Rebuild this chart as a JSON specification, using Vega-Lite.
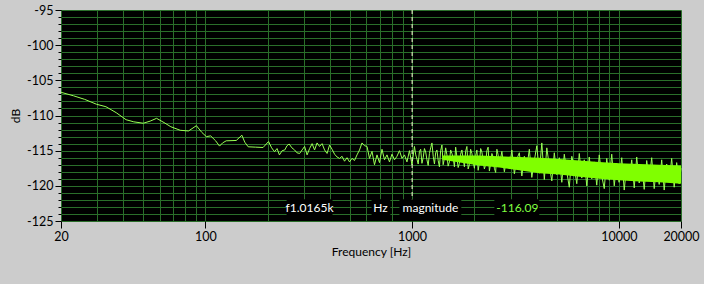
{
  "$schema": "https://vega.github.io/schema/vega-lite/v6.json",
  "width": 620,
  "height": 211,
  "autosize": {"type": "none"},
  "padding": {"left": 61, "top": 10, "right": 23, "bottom": 63},
  "background": "#cccccc",
  "config": {"view": {"fill": "#000000", "stroke": null}, "font": "Lato"},
  "datasets": {
    "spec": [
      {"f": 20, "db": -106.7}, {"f": 23, "db": -107.2}, {"f": 26, "db": -107.7}, {"f": 29.7, "db": -108.4},
      {"f": 33, "db": -108.75}, {"f": 37, "db": -109.6}, {"f": 41.3, "db": -110.6}, {"f": 45, "db": -110.9},
      {"f": 50, "db": -111.1}, {"f": 54, "db": -110.8}, {"f": 58, "db": -110.4}, {"f": 63, "db": -111.0},
      {"f": 68, "db": -111.6}, {"f": 75.5, "db": -112.1}, {"f": 82.8, "db": -112.2}, {"f": 90.4, "db": -111.45},
      {"f": 96, "db": -112.4}, {"f": 101, "db": -113.0}, {"f": 106, "db": -112.9}, {"f": 112, "db": -113.6},
      {"f": 117, "db": -114.35}, {"f": 121, "db": -113.9}, {"f": 126, "db": -113.6}, {"f": 141, "db": -113.55},
      {"f": 150, "db": -112.8}, {"f": 155, "db": -113.8}, {"f": 161, "db": -114.45}, {"f": 175, "db": -114.5},
      {"f": 190, "db": -114.55}, {"f": 202, "db": -113.7}, {"f": 209, "db": -114.6}, {"f": 216, "db": -115.15},
      {"f": 222, "db": -114.7}, {"f": 228, "db": -115.6}, {"f": 235, "db": -115.0}, {"f": 242, "db": -114.9},
      {"f": 248, "db": -114.3}, {"f": 254, "db": -114.05}, {"f": 262, "db": -114.6}, {"f": 270, "db": -114.9},
      {"f": 277, "db": -115.3}, {"f": 285.5, "db": -115.4},
      {"f": 293.5, "db": -114.9}, {"f": 301.8, "db": -114.4}, {"f": 310.3, "db": -115.6}, {"f": 319.1, "db": -114.7},
      {"f": 328.1, "db": -114.0}, {"f": 337.3, "db": -114.9}, {"f": 346.8, "db": -113.9}, {"f": 356.6, "db": -114.4},
      {"f": 366.7, "db": -114.0}, {"f": 377.0, "db": -114.9}, {"f": 387.7, "db": -115.4}, {"f": 398.6, "db": -114.2},
      {"f": 409.8, "db": -114.8}, {"f": 421.4, "db": -115.5}, {"f": 433.3, "db": -115.9}, {"f": 445.5, "db": -116.1},
      {"f": 458.1, "db": -115.8}, {"f": 471.0, "db": -116.5}, {"f": 484.3, "db": -116.0}, {"f": 497.9, "db": -116.6},
      {"f": 512.0, "db": -116.1}, {"f": 526.4, "db": -116.4}, {"f": 541.3, "db": -115.6}, {"f": 556.5, "db": -114.9},
      {"f": 572.2, "db": -113.9}, {"f": 588.4, "db": -114.3}, {"f": 605.0, "db": -114.4}, {"f": 622.0, "db": -116.1},
      {"f": 639.6, "db": -115.1}, {"f": 657.6, "db": -117.0}, {"f": 676.2, "db": -115.6}, {"f": 695.2, "db": -116.7},
      {"f": 714.9, "db": -114.8}, {"f": 735.0, "db": -116.3}, {"f": 755.8, "db": -115.6}, {"f": 777.1, "db": -116.6},
      {"f": 799.0, "db": -115.5}, {"f": 821.6, "db": -116.3}, {"f": 844.7, "db": -115.8}, {"f": 868.6, "db": -115.0},
      {"f": 893.1, "db": -116.1}, {"f": 918.3, "db": -115.6}, {"f": 944.2, "db": -116.6}, {"f": 970.8, "db": -115.0},
      {"f": 998.2, "db": -117.0}, {"f": 1026.4, "db": -114.4}, {"f": 1055.3, "db": -116.2}, {"f": 1085.1, "db": -115.1},
      {"f": 1115.7, "db": -116.8}, {"f": 1147.2, "db": -114.7}, {"f": 1179.6, "db": -116.3}, {"f": 1212.9, "db": -115.4},
      {"f": 1247.1, "db": -113.9}, {"f": 1282.3, "db": -116.9}, {"f": 1318.4, "db": -114.9}, {"f": 1355.6, "db": -117.3},
      {"f": 1393.9, "db": -114.2}, {"f": 1433.2, "db": -116.1}, {"f": 1473.6, "db": -115.6}, {"f": 1515.2, "db": -116.6},
      {"f": 1558.0, "db": -115.4}, {"f": 1601.9, "db": -117.3}, {"f": 1647.1, "db": -115.9}, {"f": 1693.6, "db": -116.8},
      {"f": 1741.4, "db": -114.9}, {"f": 1790.5, "db": -117.3}, {"f": 1841.0, "db": -114.4}, {"f": 1893.0, "db": -117.0},
      {"f": 1946.4, "db": -115.4}, {"f": 2001.3, "db": -117.5}, {"f": 2057.8, "db": -114.9}, {"f": 2115.9, "db": -116.8},
      {"f": 2176, "db": -115.2}, {"f": 2237, "db": -117.6}, {"f": 2300, "db": -115.0}, {"f": 2365, "db": -117.9},
      {"f": 2432, "db": -115.4}, {"f": 2500, "db": -117.5}, {"f": 2571, "db": -114.8},
      {"f": 1041, "db": -115.6}, {"f": 1070, "db": -116.9}, {"f": 1100, "db": -114.8}, {"f": 1131, "db": -116.0},
      {"f": 1163, "db": -115.2}, {"f": 1196, "db": -117.1}, {"f": 1230, "db": -114.6}, {"f": 1265, "db": -115.8},
      {"f": 1300, "db": -115.3}, {"f": 1337, "db": -116.4}, {"f": 1374, "db": -115.0}, {"f": 1413, "db": -117.0},
      {"f": 1453, "db": -114.6}, {"f": 1494, "db": -117.2}, {"f": 1536, "db": -114.9}, {"f": 1580, "db": -116.0},
      {"f": 1624, "db": -114.5}, {"f": 1670, "db": -117.4}, {"f": 1717, "db": -115.5}, {"f": 1766, "db": -116.2},
      {"f": 1815, "db": -115.1}, {"f": 1867, "db": -117.6}, {"f": 1919, "db": -114.8}, {"f": 1973, "db": -116.5},
      {"f": 2029, "db": -115.7}, {"f": 2087, "db": -117.8}, {"f": 2146, "db": -114.7}, {"f": 2206, "db": -116.4},
      {"f": 2268, "db": -117.0}, {"f": 2332, "db": -114.5}, {"f": 2398, "db": -116.9}, {"f": 2466, "db": -115.9},
      {"f": 2536, "db": -118.1}, {"f": 2607, "db": -115.6},
      {"f": 2643, "db": -117.2}, {"f": 2718, "db": -115.1}, {"f": 2795, "db": -118.0}, {"f": 2874, "db": -116.0},
      {"f": 2955, "db": -117.6}, {"f": 3038, "db": -114.9}, {"f": 3124, "db": -118.3}, {"f": 3212, "db": -116.2},
      {"f": 3302, "db": -115.3}, {"f": 3396, "db": -118.6}, {"f": 3491, "db": -115.8}, {"f": 3590, "db": -117.4},
      {"f": 3691, "db": -114.8}, {"f": 3795, "db": -118.8}, {"f": 3902, "db": -116.4}, {"f": 4013, "db": -114.3},
      {"f": 4126, "db": -118.2}, {"f": 4242, "db": -113.9}, {"f": 4362, "db": -119.1}, {"f": 4485, "db": -114.6},
      {"f": 4611, "db": -117.2}, {"f": 4742, "db": -119.3}, {"f": 4875, "db": -115.3}, {"f": 5013, "db": -118.4},
      {"f": 5154, "db": -116.0}, {"f": 5300, "db": -119.5}, {"f": 5449, "db": -115.5}, {"f": 5603, "db": -118.0},
      {"f": 5761, "db": -120.2}, {"f": 5924, "db": -115.8}, {"f": 6091, "db": -117.4}, {"f": 6263, "db": -119.7},
      {"f": 6439, "db": -115.4}, {"f": 6621, "db": -118.9}, {"f": 6808, "db": -116.3}, {"f": 7000, "db": -120.0},
      {"f": 7197, "db": -115.9}, {"f": 7400, "db": -119.0}, {"f": 7609, "db": -116.6}, {"f": 7824, "db": -119.9},
      {"f": 8045, "db": -115.6}, {"f": 8272, "db": -118.6}, {"f": 8505, "db": -120.4}, {"f": 8745, "db": -116.1},
      {"f": 8992, "db": -119.2}, {"f": 9245, "db": -115.5}, {"f": 9506, "db": -120.0}, {"f": 9774, "db": -116.8},
      {"f": 10034, "db": -119.5}, {"f": 10334, "db": -116.0}, {"f": 10625, "db": -120.6}, {"f": 10925, "db": -117.0},
      {"f": 11233, "db": -119.2}, {"f": 11550, "db": -116.3}, {"f": 11876, "db": -120.3}, {"f": 12211, "db": -115.9},
      {"f": 12556, "db": -119.6}, {"f": 12910, "db": -117.1}, {"f": 13274, "db": -120.5}, {"f": 13649, "db": -116.4},
      {"f": 14034, "db": -119.1}, {"f": 14430, "db": -116.0}, {"f": 14837, "db": -120.4}, {"f": 15256, "db": -117.2},
      {"f": 15686, "db": -119.8}, {"f": 16129, "db": -116.3}, {"f": 16584, "db": -120.6}, {"f": 17052, "db": -116.9},
      {"f": 17533, "db": -119.4}, {"f": 18028, "db": -116.1}, {"f": 18537, "db": -120.2}, {"f": 19060, "db": -116.7},
      {"f": 19598, "db": -119.7}, {"f": 20000, "db": -117.5}
    ],
    "band": [
      {"f": 1400, "lo": -116.3, "hi": -115.7}, {"f": 1700, "lo": -116.7, "hi": -115.7},
      {"f": 2116, "lo": -117.1, "hi": -115.7}, {"f": 2643, "lo": -117.4, "hi": -115.8},
      {"f": 3302, "lo": -117.8, "hi": -115.9}, {"f": 4126, "lo": -118.2, "hi": -116.0},
      {"f": 5154, "lo": -118.4, "hi": -116.2}, {"f": 6439, "lo": -118.7, "hi": -116.4},
      {"f": 8045, "lo": -119.0, "hi": -116.6}, {"f": 10034, "lo": -119.2, "hi": -116.8},
      {"f": 12556, "lo": -119.4, "hi": -116.9}, {"f": 15686, "lo": -119.5, "hi": -117.0},
      {"f": 20000, "lo": -119.7, "hi": -117.1}
    ],
    "boxes": [
      {"f": 247, "f2": 412, "db": -121.9, "y2": -125},
      {"f": 636, "f2": 785, "db": -121.9, "y2": -125},
      {"f": 868, "f2": 1730, "db": -121.9, "y2": -125},
      {"f": 2500, "f2": 4122, "db": -121.9, "y2": -125}
    ],
    "labels": [
      {"f": 319, "db": -123.2, "t": "f1.0165k"},
      {"f": 703, "db": -123.2, "t": "Hz"},
      {"f": 1226, "db": -123.2, "t": "magnitude"}
    ],
    "value": [
      {"f": 3228, "db": -123.2, "t": "-116.09"}
    ]
  },
  "layer": [
    {
      "data": {"name": "spec"},
      "mark": {"type": "line", "color": "#99ff55", "strokeWidth": 1, "interpolate": "linear"},
      "encoding": {
        "x": {"field": "f", "type": "quantitative", "scale": {"type": "log", "domain": [20, 20000], "nice": false},
          "axis": {
            "values": [20, 30, 40, 50, 60, 70, 80, 90, 100, 200, 300, 400, 500, 600, 700, 800, 900, 1000, 2000, 3000, 4000, 5000, 6000, 7000, 8000, 9000, 10000, 20000],
            "tickCount": 28,
            "labelExpr": "indexof([20,100,1000,10000,20000], datum.value) >= 0 ? '' + datum.value : ''",
            "tickColor": {"condition": {"test": "indexof([20,100,1000,10000,20000], datum.value) >= 0", "value": "#000000"}, "value": "transparent"},
            "tickSize": 7,
            "grid": true, "gridColor": "#2a6e2a", "gridOpacity": 1, "gridWidth": 1,
            "domain": false, "labelFontSize": 12.5, "labelColor": "#000000", "labelPadding": 2,
            "labelFlush": false, "labelOverlap": false,
            "title": "Frequency [Hz]", "titleFontSize": 12, "titleFontWeight": "normal", "titleColor": "#000000", "titlePadding": 4
          }},
        "y": {"field": "db", "type": "quantitative", "scale": {"domain": [-125, -95], "nice": false, "zero": false},
          "axis": {
            "values": [-125, -124, -123, -122, -121, -120, -119, -118, -117, -116, -115, -114, -113, -112, -111, -110, -109, -108, -107, -106, -105, -104, -103, -102, -101, -100, -99, -98, -97, -96, -95],
            "tickCount": 31,
            "labelExpr": "datum.value % 5 === 0 ? '' + datum.value : ''",
            "tickSize": {"condition": {"test": "datum.value % 5 === 0", "value": 6}, "value": 3},
            "tickColor": "#000000",
            "grid": true, "gridColor": "#2a6e2a", "gridOpacity": 1, "gridWidth": 1,
            "domain": false, "labelFontSize": 12.5, "labelColor": "#000000", "labelPadding": 2,
            "labelFlush": false, "labelOverlap": false,
            "title": "dB", "titleFontSize": 12, "titleFontWeight": "normal", "titleColor": "#000000", "titlePadding": 4
          }}
      }
    },
    {
      "data": {"name": "band"},
      "mark": {"type": "area", "color": "#80ff00", "opacity": 1},
      "encoding": {
        "x": {"field": "f", "type": "quantitative"},
        "y": {"field": "lo", "type": "quantitative"},
        "y2": {"field": "hi"}
      }
    },
    {
      "data": {"values": [{"f": 1000}]},
      "mark": {"type": "rule", "color": "#ffffd8", "strokeDash": [4, 3], "strokeWidth": 1},
      "encoding": {
        "x": {"field": "f", "type": "quantitative"}
      }
    },
    {
      "data": {"name": "boxes"},
      "mark": {"type": "rect", "color": "#000000"},
      "encoding": {
        "x": {"field": "f", "type": "quantitative"},
        "x2": {"field": "f2"},
        "y": {"field": "db", "type": "quantitative"},
        "y2": {"field": "y2"}
      }
    },
    {
      "data": {"name": "labels"},
      "mark": {"type": "text", "color": "#ffffff", "fontSize": 12, "align": "center", "baseline": "middle"},
      "encoding": {
        "x": {"field": "f", "type": "quantitative"},
        "y": {"field": "db", "type": "quantitative"},
        "text": {"field": "t"}
      }
    },
    {
      "data": {"name": "value"},
      "mark": {"type": "text", "color": "#80ff40", "fontSize": 12, "align": "center", "baseline": "middle"},
      "encoding": {
        "x": {"field": "f", "type": "quantitative"},
        "y": {"field": "db", "type": "quantitative"},
        "text": {"field": "t"}
      }
    }
  ]
}
